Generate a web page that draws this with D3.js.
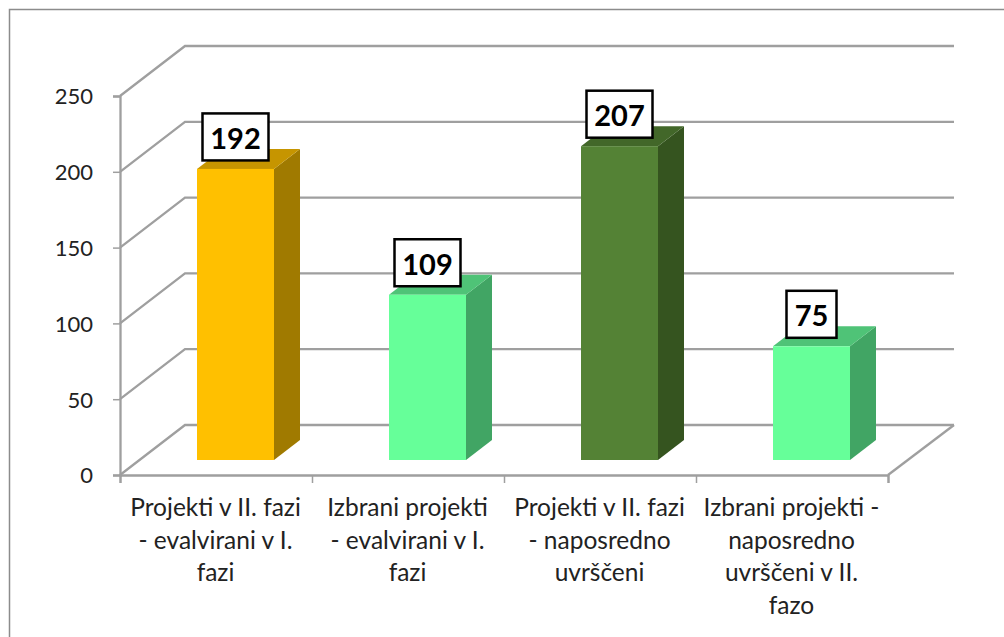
<!DOCTYPE html>
<html>
<head>
<meta charset="utf-8">
<script src="https://cdn.jsdelivr.net/npm/d3@7/dist/d3.min.js"></script>
<style>
html,body{margin:0;padding:0;background:#fff;overflow:hidden}
svg{display:block}
text{font-family:Lato,"Open Sans",sans-serif}
</style>
</head>
<body>
<svg id="c" width="1004" height="637"></svg>
<script>
const categories = [
  "Projekti v II. fazi - evalvirani v I. fazi",
  "Izbrani projekti - evalvirani v I. fazi",
  "Projekti v II. fazi - naposredno uvrščeni",
  "Izbrani projekti - naposredno uvrščeni v II. fazo"
];
const categoryLines = [
  ["Projekti v II. fazi", "- evalvirani v I.", "fazi"],
  ["Izbrani projekti", "- evalvirani v I.", "fazi"],
  ["Projekti v II. fazi", "- naposredno", "uvrščeni"],
  ["Izbrani projekti -", "naposredno", "uvrščeni v II.", "fazo"]
];
const values = [192, 109, 207, 75];
const yTicks = [0, 50, 100, 150, 200, 250];
const frontColors = ["#FFC000", "#66FF99", "#548235", "#66FF99"];
const topColors   = ["#C69500", "#4FC377", "#426729", "#4FC377"];
const sideColors  = ["#A07A00", "#41A564", "#35541F", "#41A564"];

const svg = d3.select("#c");
const grid = "#9f9f9f", ink = "#222222";
const depth = {x: 65, y: -50};
const barFront = {x: 19.5, y: -15};
const barDepth = {x: 26, y: -20};
const x = d3.scaleBand().domain(categories).range([120, 888]);
const y = d3.scaleLinear().domain([0, 250]).range([475, 96]);
const barWidth = 77;

// outer frame (only top and left edges visible)
svg.append("path").attr("d", "M9.5,637V9.5H1004")
  .attr("fill", "none").attr("stroke", "#8c8c8c").attr("stroke-width", 1.5);

// walls and gridlines
const walls = svg.append("g").attr("fill", "none").attr("stroke", grid).attr("stroke-width", 2.3);
walls.selectAll("path.g").data(yTicks).join("path").attr("class", "g")
  .attr("d", v => {
    const p = d3.path();
    p.moveTo(x.range()[0], y(v));
    p.lineTo(x.range()[0] + depth.x, y(v) + depth.y);
    p.lineTo(x.range()[1] + depth.x + 1, y(v) + depth.y);
    return p.toString();
  });
// floor right edge
walls.append("path").attr("d", () => {
  const p = d3.path();
  p.moveTo(x.range()[1], y(0));
  p.lineTo(x.range()[1] + depth.x + 1, y(0) + depth.y);
  return p.toString();
});

// axes
const yAxis = d3.axisLeft(y).tickValues(yTicks).tickSize(7).tickPadding(20).tickFormat(d3.format("d"));
const gy = svg.append("g").attr("transform", "translate(120,0)").call(yAxis);
const xAxis = d3.axisBottom(d3.scaleLinear().domain([0, 4]).range(x.range())).tickValues([0,1,2,3,4]).tickSize(8).tickFormat("");
const gx = svg.append("g").attr("transform", `translate(0,${y(0)})`).call(xAxis);
[gy, gx].forEach(g => {
  g.selectAll(".domain").attr("stroke", grid).attr("stroke-width", 2.3);
  g.selectAll(".tick line").attr("stroke", grid).attr("stroke-width", 1.5);
});
gy.selectAll("text").attr("fill", ink).attr("font-size", 22).attr("dy", "0.36em");

// bars
const bars = svg.selectAll("g.bar").data(values).join("g").attr("class", "bar");
const x0 = i => x(categories[i]) + (x.bandwidth() - barWidth) / 2 + barFront.x;
const base = y(0) + barFront.y;
const barTop = v => base - (y(0) - y(v));
const poly = pts => pts.map(p => p.join(",")).join(" ");
bars.append("polygon").attr("fill", (d, i) => sideColors[i]).attr("points", (d, i) => poly([
  [x0(i) + barWidth, barTop(d)],
  [x0(i) + barWidth + barDepth.x, barTop(d) + barDepth.y],
  [x0(i) + barWidth + barDepth.x, base + barDepth.y],
  [x0(i) + barWidth, base]
]));
bars.append("polygon").attr("fill", (d, i) => topColors[i]).attr("points", (d, i) => poly([
  [x0(i), barTop(d)],
  [x0(i) + barDepth.x, barTop(d) + barDepth.y],
  [x0(i) + barWidth + barDepth.x, barTop(d) + barDepth.y],
  [x0(i) + barWidth, barTop(d)]
]));
bars.append("rect").attr("fill", (d, i) => frontColors[i])
  .attr("x", (d, i) => x0(i)).attr("y", d => barTop(d))
  .attr("width", barWidth).attr("height", d => base - barTop(d));

// value labels
const labels = svg.selectAll("g.lab").data(values).join("g").attr("class", "lab")
  .attr("transform", (d, i) => `translate(${x0(i) + barWidth / 2},${barTop(d) - 32})`);
labels.append("rect")
  .attr("x", d => String(d).length > 2 ? -33 : -25)
  .attr("width", d => String(d).length > 2 ? 66 : 50)
  .attr("y", -23.5).attr("height", 47)
  .attr("fill", "#fff").attr("stroke", "#000").attr("stroke-width", 2.5);
labels.append("text").text(d => d)
  .attr("text-anchor", "middle").attr("y", 1.5).attr("dy", "0.36em")
  .attr("font-size", 29).attr("font-weight", 700).attr("fill", "#000");

// category labels
const cat = svg.selectAll("text.cat").data(categoryLines).join("text").attr("class", "cat")
  .attr("text-anchor", "middle").attr("fill", ink).attr("font-size", 24.5)
  .attr("transform", (d, i) => `translate(${x(categories[i]) + x.bandwidth() / 2 - 0.5},516)`);
cat.selectAll("tspan").data(d => d).join("tspan")
  .attr("x", 0).attr("y", (d, i) => i * 32.5).text(d => d);
</script>
</body>
</html>
